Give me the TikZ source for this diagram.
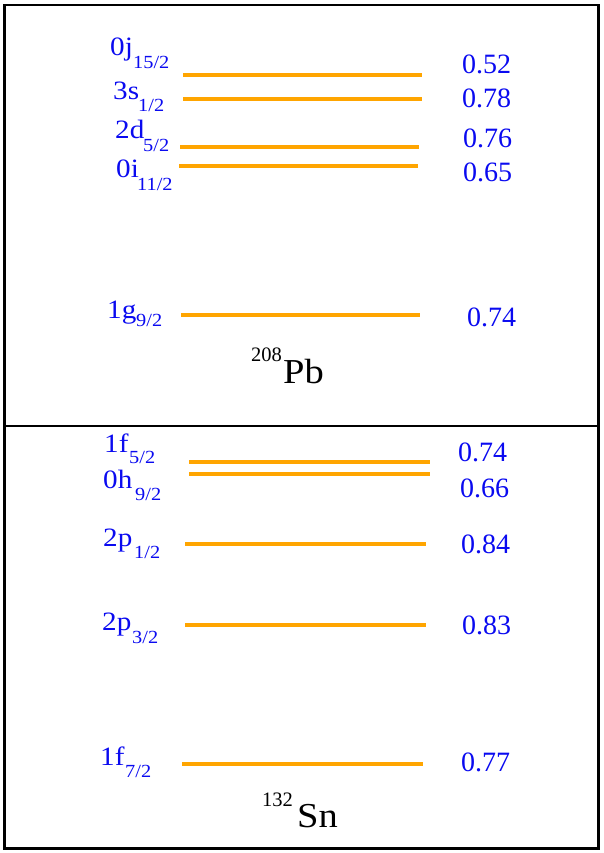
\documentclass[tikz,border=0pt]{standalone}
\usepackage{fontspec}
\setmainfont{Liberation Serif}
\newfontfamily\lblfont[FakeStretch=1.1]{Liberation Serif}
\definecolor{lvl}{RGB}{255,165,0}
\definecolor{lblblue}{RGB}{10,10,240}
\begin{document}
\begin{tikzpicture}[x=1pt,y=-1pt,
  level/.style={draw=lvl,line width=4pt},
  orbl/.style={anchor=base west,inner sep=0pt,text=lblblue,font=\lblfont\fontsize{26.5}{26.5}\selectfont},
  orbs/.style={anchor=base west,inner sep=0pt,text=lblblue,font=\lblfont\fontsize{18.5}{18.5}\selectfont},
  occ/.style={anchor=base west,inner sep=0pt,text=lblblue,font=\fontsize{28}{28}\selectfont},
  nucm/.style={anchor=base west,inner sep=0pt,text=black,font=\lblfont\fontsize{35}{35}\selectfont},
  nucs/.style={anchor=base west,inner sep=0pt,text=black,font=\fontsize{20.5}{20.5}\selectfont},
  frame/.style={draw=black,line width=2.8pt}]
\useasboundingbox (0,0) rectangle (603,853);
% frame and divider
\draw[frame] (4.5,5) rectangle (598.5,848.5);
\draw[frame] (4.5,426) -- (598.5,426);
% 208Pb levels
\draw[level] (183,75) -- (422,75);
\draw[level] (183,99) -- (422,99);
\draw[level] (180,147) -- (419,147);
\draw[level] (179,166) -- (418,166);
\draw[level] (181,315) -- (420,315);
% 132Sn levels
\draw[level] (189,462) -- (430,462);
\draw[level] (189,474) -- (430,474);
\draw[level] (185,544) -- (426,544);
\draw[level] (185,625) -- (426,625);
\draw[level] (182,764) -- (423,764);
% orbital labels Pb
\node[orbl] (j15) at (110,56) {0j};   \node[orbs] (j15s) at (133,69) {15/2};
\node[orbl] (s1) at (113,100) {3s};   \node[orbs] (s1s) at (138,112) {1/2};
\node[orbl] (d5) at (115,139) {2d};   \node[orbs] (d5s) at (143,152) {5/2};
\node[orbl] (i11) at (116,178) {0i};  \node[orbs] (i11s) at (137,190) {11/2};
\node[orbl] (g9) at (107,318) {1g};   \node[orbs] (g9s) at (136,326) {9/2};
% occupancies Pb
\node[occ] (oj15) at (462,74) {0.52};
\node[occ] (os1) at (462,108) {0.78};
\node[occ] (od5) at (463,148) {0.76};
\node[occ] (oi11) at (463,182) {0.65};
\node[occ] (og9) at (467,326) {0.74};
\node[nucs] (pbA) at (251,361) {208};
\node[nucm] (pb) at (283,383) {Pb};
% orbital labels Sn
\node[orbl] (f5) at (104,452) {1f};   \node[orbs] (f5s) at (129,463) {5/2};
\node[orbl] (h9) at (103,488) {0h};   \node[orbs] (h9s) at (135,500) {9/2};
\node[orbl] (p1) at (103,546) {2p};   \node[orbs] (p1s) at (134,558) {1/2};
\node[orbl] (p3) at (102,630) {2p};   \node[orbs] (p3s) at (132,643) {3/2};
\node[orbl] (f7) at (100,765) {1f};   \node[orbs] (f7s) at (125,777) {7/2};
% occupancies Sn
\node[occ] (of5) at (458,461) {0.74};
\node[occ] (oh9) at (460,497) {0.66};
\node[occ] (op1) at (461,553) {0.84};
\node[occ] (op3) at (462,634) {0.83};
\node[occ] (of7) at (461,771) {0.77};
\node[nucs] (snA) at (262,806) {132};
\node[nucm] (sn) at (297,827) {Sn};
\end{tikzpicture}
\end{document}
